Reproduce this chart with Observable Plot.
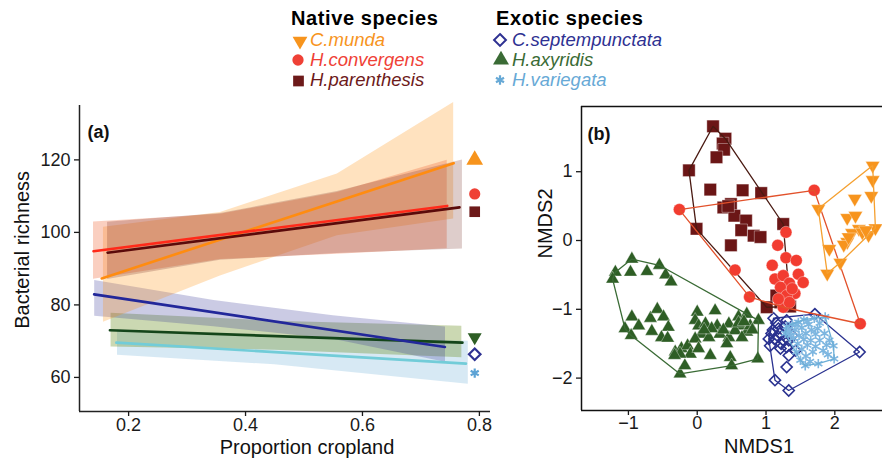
<!DOCTYPE html>
<html><head><meta charset="utf-8">
<script src="https://cdn.jsdelivr.net/npm/d3@7"></script>
<script src="https://cdn.jsdelivr.net/npm/@observablehq/plot@0.6"></script>
<style>
body{margin:0;background:#fff;font-family:"Liberation Sans",Arial,sans-serif;}
#wrap{position:relative;width:882px;height:468px;overflow:hidden;}
#wrap > svg{position:absolute;}
</style></head><body>
<div id="wrap"></div>
<script>
// ---------- data ----------
const species = ["C.munda","H.convergens","H.parenthesis","C.septempunctata","H.axyridis","H.variegata"];
const nativeSpecies = ["C.munda","H.convergens","H.parenthesis"];
const exoticSpecies = ["C.septempunctata","H.axyridis","H.variegata"];

// panel (a): fitted lines (start / end)
const fitX0 = [0.154, 0.140, 0.164, 0.141, 0.168, 0.179];
const fitY0 = [87.3, 94.8, 94.4, 82.9, 73.0, 69.6];
const fitX1 = [0.756, 0.745, 0.766, 0.741, 0.771, 0.777];
const fitY1 = [119.1, 107.3, 106.9, 68.4, 69.6, 63.8];
// panel (a): mean richness markers at the right
const meanX = 0.792;
const meanY = [120.0, 110.6, 105.7, 66.4, 71.1, 61.2];
// panel (a): confidence bands
const mundaBandX = [0.157, 0.357, 0.557, 0.756];
const mundaBandLo = [75.2, 88.0, 99.1, 103.7];
const mundaBandHi = [101.4, 105.5, 116.1, 135.8];
const convBandX = [0.140, 0.357, 0.557, 0.745];
const convBandLo = [87.1, 92.5, 94.0, 95.5];
const convBandHi = [102.9, 105.0, 111.0, 119.9];
const parBandX = [0.164, 0.357, 0.557, 0.771];
const parBandLo = [87.0, 92.3, 94.2, 95.4];
const parBandHi = [102.8, 105.2, 111.3, 120.0];
const septBandX = [0.142, 0.346, 0.550, 0.742];
const septBandLo = [76.9, 74.0, 70.5, 64.2];
const septBandHi = [86.7, 81.2, 77.0, 73.9];
const axyBandX = [0.170, 0.450, 0.770];
const axyBandLo = [68.4, 67.5, 65.4];
const axyBandHi = [77.7, 75.5, 74.1];
const varBandX = [0.181, 0.450, 0.781];
const varBandLo = [66.1, 63.5, 58.1];
const varBandHi = [73.1, 70.8, 70.0];

// panel (b): NMDS scores [NMDS1, NMDS2]
const mundaPts = [[2.55,1.09],[2.55,0.88],[2.53,0.65],[2.29,0.61],[1.76,0.46],[2.18,0.33],[2.30,0.36],[2.35,0.17],[2.25,0.11],[2.40,0.12],[2.49,0.08],[2.59,0.18],[2.18,-0.02],[2.13,-0.06],[1.92,-0.12],[2.08,-0.32],[1.89,-0.48],[2.20,0.05],[2.45,0.15]];
const convPts = [[-0.26,0.45],[1.70,0.73],[1.29,0.12],[1.17,-0.07],[1.29,-0.25],[1.44,-0.29],[1.09,-0.36],[0.55,-0.43],[1.47,-0.49],[1.13,-0.56],[1.25,-0.51],[1.54,-0.61],[1.34,-0.62],[1.21,-0.68],[1.42,-0.77],[1.30,-0.80],[0.76,-0.82],[1.25,-0.97],[1.34,-0.90],[2.37,-1.21],[1.38,-0.70],[1.18,-0.85]];
const parPts = [[0.23,1.66],[0.41,1.48],[0.37,1.41],[0.39,1.32],[0.28,1.21],[-0.12,1.02],[0.19,0.74],[0.66,0.73],[0.93,0.69],[0.38,0.48],[0.49,0.53],[0.54,0.36],[0.71,0.29],[0.64,0.15],[0.82,0.07],[0.92,0.05],[1.25,0.24],[-0.01,0.17],[0.49,-0.07],[1.15,-0.80],[1.01,-0.97],[1.33,-0.90],[1.21,-0.90],[1.35,-0.96],[0.45,0.50]];
const septPts = [[1.11,-1.13],[1.71,-1.07],[1.30,-1.16],[1.18,-1.28],[1.13,-1.43],[1.06,-1.53],[1.04,-1.43],[1.21,-1.57],[1.33,-1.67],[1.30,-1.84],[1.13,-2.03],[1.33,-2.18],[2.36,-1.62],[1.38,-1.38],[1.33,-1.45],[1.43,-1.60],[1.15,-1.20],[1.20,-1.35],[1.25,-1.45],[1.28,-1.25],[1.10,-1.30],[1.22,-1.50],[1.18,-1.40],[1.30,-1.55],[1.08,-1.35]];
const axyPts = [[-0.95,-0.27],[-1.19,-0.46],[-0.97,-0.46],[-0.73,-0.45],[-0.55,-0.36],[-0.46,-0.50],[-0.38,-0.60],[-1.23,-0.56],[-0.95,-1.11],[-1.05,-1.28],[-0.96,-1.38],[-0.85,-1.24],[-0.68,-1.13],[-0.58,-1.00],[-0.49,-1.11],[-0.42,-1.26],[-0.66,-1.32],[-0.52,-1.41],[-0.43,-1.42],[-0.25,-1.94],[-0.18,-1.82],[-0.32,-1.62],[-0.23,-1.57],[-0.14,-1.53],[-0.10,-1.65],[-0.25,-1.65],[-0.33,-1.67],[0.00,-1.04],[0.26,-1.02],[-0.03,-1.16],[0.02,-1.24],[0.12,-1.21],[0.06,-1.36],[0.17,-1.41],[-0.03,-1.43],[0.02,-1.57],[0.19,-1.67],[0.29,-1.24],[0.33,-1.36],[0.46,-1.21],[0.46,-1.41],[0.43,-1.50],[0.48,-1.70],[0.50,-1.82],[0.60,-1.11],[0.72,-1.07],[0.65,-1.24],[0.55,-1.31],[0.72,-1.33],[0.65,-1.41],[0.89,-1.16],[0.88,-1.72],[0.77,-1.24],[0.21,-1.28],[0.10,-1.30],[0.38,-1.30],[0.60,-1.20],[0.80,-1.30],[0.68,-1.18]];
const varPts = [[1.86,-1.11],[1.70,-1.13],[1.55,-1.15],[1.47,-1.19],[1.38,-1.22],[1.30,-1.25],[1.62,-1.22],[1.78,-1.20],[1.52,-1.27],[1.42,-1.30],[1.66,-1.30],[1.35,-1.33],[1.58,-1.35],[1.48,-1.38],[1.72,-1.36],[1.85,-1.35],[1.40,-1.42],[1.55,-1.44],[1.65,-1.45],[1.78,-1.45],[1.92,-1.45],[1.46,-1.50],[1.60,-1.52],[1.72,-1.54],[1.98,-1.53],[1.36,-1.38],[1.52,-1.58],[1.68,-1.62],[1.83,-1.60],[1.44,-1.62],[1.58,-1.68],[1.90,-1.66],[1.99,-1.72],[1.76,-1.79],[1.57,-1.82],[1.50,-1.74],[1.64,-1.76],[1.32,-1.30],[1.28,-1.35],[1.45,-1.22],[1.60,-1.18],[1.75,-1.28],[1.88,-1.52]];

// ---------- styles ----------
const sqrt3 = Math.sqrt(3);
const triangleDown = {draw(ctx, size){ const y = -Math.sqrt(size/(sqrt3*3)); ctx.moveTo(0,-y*2); ctx.lineTo(-sqrt3*y,y); ctx.lineTo(sqrt3*y,y); ctx.closePath(); }};
const textColor = {"C.munda":"#F7941D","H.convergens":"#EF4136","H.parenthesis":"#6D1A1A","C.septempunctata":"#2E3192","H.axyridis":"#3A6B35","H.variegata":"#67A9D6"};
const lineColor = {"C.munda":"#FF8C10","H.convergens":"#FF2A1A","H.parenthesis":"#5A0A0A","C.septempunctata":"#22279A","H.axyridis":"#14451A","H.variegata":"#72CCD8"};
const bandStyle = {"C.munda":["#FF8C00",0.25],"H.convergens":["#F06A3A",0.32],"H.parenthesis":["#6B1A10",0.22],"C.septempunctata":["#2E3192",0.25],"H.axyridis":["#6B8E23",0.35],"H.variegata":["#6BAED6",0.27]};
const font = "'Liberation Sans', Arial, sans-serif";
const tickFmt = d => d < 0 ? "\u2212" + (-d) : String(d);

const wrap = document.getElementById("wrap");

// ---------- legend ----------
const NS = "http://www.w3.org/2000/svg";
const leg = document.createElementNS(NS, "svg");
leg.setAttribute("width", 882); leg.setAttribute("height", 92);
leg.style.left = "0px"; leg.style.top = "0px";
leg.setAttribute("font-family", "Liberation Sans, Arial, sans-serif");
function addText(x, y, s, attrs){ const t = document.createElementNS(NS,"text"); t.setAttribute("x",x); t.setAttribute("y",y); t.textContent = s; for (const k in attrs) t.setAttribute(k, attrs[k]); leg.appendChild(t); }
function addSym(cx, cy, type, size, attrs){ const p = document.createElementNS(NS,"path"); p.setAttribute("d", d3.symbol().type(type).size(size)()); p.setAttribute("transform",`translate(${cx},${cy})`); for (const k in attrs) p.setAttribute(k, attrs[k]); leg.appendChild(p); }
addText(291, 25, "Native species", {"font-weight":"bold","font-size":20,"letter-spacing":0.6});
addText(496, 25, "Exotic species", {"font-weight":"bold","font-size":20,"letter-spacing":0.6});
const rowY = [46, 65.5, 86];
nativeSpecies.forEach((s,i)=> addText(310, rowY[i], s, {"font-style":"italic","font-size":18.5,"fill":textColor[s]}));
exoticSpecies.forEach((s,i)=> addText(512, rowY[i], s, {"font-style":"italic","font-size":18.5,"fill":textColor[s]}));
addSym(300, 41, triangleDown, 95, {fill: textColor["C.munda"]});
addSym(298, 60, d3.symbolCircle, 100, {fill: textColor["H.convergens"]});
addSym(298.5, 81, d3.symbolSquare, 115, {fill: textColor["H.parenthesis"]});
addSym(500, 40, d3.symbolDiamond2, 90, {fill: "none", stroke: textColor["C.septempunctata"], "stroke-width": 2});
addSym(501, 60, d3.symbolTriangle, 110, {fill: textColor["H.axyridis"]});
addSym(500, 80, d3.symbolAsterisk, 60, {stroke: textColor["H.variegata"], "stroke-width": 2.2});
wrap.appendChild(leg);

// ---------- panel (a) ----------
const bandSets = [
  ["H.variegata", varBandX, varBandLo, varBandHi],
  ["H.axyridis", axyBandX, axyBandLo, axyBandHi],
  ["C.septempunctata", septBandX, septBandLo, septBandHi],
  ["C.munda", mundaBandX, mundaBandLo, mundaBandHi],
  ["H.convergens", convBandX, convBandLo, convBandHi],
  ["H.parenthesis", parBandX, parBandLo, parBandHi]
];
const bandMarks = bandSets.map(([sp, xs, lo, hi]) => {
  const rows = xs.map((x,i)=>({x, lo: lo[i], hi: hi[i]}));
  return Plot.areaY(rows, {x:"x", y1:"lo", y2:"hi", fill: bandStyle[sp][0], fillOpacity: bandStyle[sp][1]});
});
const lineOrder = [5,4,3,0,1,2];
const lineMarks = lineOrder.map(i => Plot.line([{x:fitX0[i], y:fitY0[i]},{x:fitX1[i], y:fitY1[i]}], {x:"x", y:"y", stroke: lineColor[species[i]], strokeWidth: 2.6}));
const meanSym = [d3.symbolTriangle, "circle", "square", "diamond2", triangleDown, "asterisk"];
const meanR = [6.2, 5.6, 6.0, 5.2, 5.2, 4.4];
const meanFill = ["#F7941D", "#EF4136", "#6D1A1A", "none", "#2E5E25", "none"];
const meanStroke = ["none", "none", "none", "#2E3192", "none", "#5DA3D5"];
const meanMarks = species.map((s,i) =>
  Plot.dot([{x: meanX, y: meanY[i]}], {x:"x", y:"y", symbol: meanSym[i], r: meanR[i],
    fill: meanFill[i], stroke: meanStroke[i], strokeWidth: 2.2}));
const ax0 = 0.116, ax1 = 0.819, ay0 = 50.6, ay1 = 135;
const panelA = Plot.plot({
  width: 510, height: 378, marginLeft: 79, marginRight: 20, marginTop: 15, marginBottom: 57,
  x: {domain: [ax0, ax1]}, y: {domain: [ay0, ay1]},
  style: {fontFamily: font, fontSize: "18px", color: "#1a1a1a", background: "none", overflow: "visible"},
  marks: [
    ...bandMarks,
    ...lineMarks,
    ...meanMarks,
    Plot.ruleX([ax0], {stroke: "#222", strokeWidth: 1.5}),
    Plot.ruleY([ay0], {stroke: "#222", strokeWidth: 1.5}),
    Plot.axisX({ticks: [0.2,0.4,0.6,0.8], tickFormat: d => d.toFixed(1), tickSize: 5, tickPadding: 2, label: null, fontSize: 18, strokeWidth: 1.3}),
    Plot.axisY({ticks: [60,80,100,120], tickFormat: tickFmt, tickSize: 5, tickPadding: 4, label: null, fontSize: 18, strokeWidth: 1.3}),
    Plot.text(["Proportion cropland"], {frameAnchor: "bottom", dx: 22, dy: 42, fontSize: 20, fill: "#111"}),
    Plot.text(["Bacterial richness"], {x: ax0, y: 95.2, rotate: -90, dx: -57, fontSize: 20, fill: "#111"}),
    Plot.text(["(a)"], {frameAnchor: "top-left", textAnchor: "start", dx: 8, dy: 20, fontSize: 18, fontWeight: "bold", fill: "#111"})
  ]
});
panelA.style.left = "0px"; panelA.style.top = "90px";
wrap.appendChild(panelA);

// ---------- panel (b) ----------
const rowsOf = pts => pts.map(([x,y]) => ({x, y}));
const hullColor = {"C.munda":"#F5A030","H.convergens":"#E2512B","H.parenthesis":"#4A1A12","C.septempunctata":"#2A3290","H.axyridis":"#3A6B35","H.variegata":"#6BAED6"};
const ptSets = [
  ["H.axyridis", axyPts, "triangle", 5.0, "#2E5E25", false],
  ["C.septempunctata", septPts, "diamond2", 5.0, "#2A3290", true],
  ["H.variegata", varPts, "asterisk", 4.4, "#7DB6E0", true],
  ["H.parenthesis", parPts, "square", 7.0, "#6B1616", false],
  ["H.convergens", convPts, "circle", 6.0, "#F23C30", false],
  ["C.munda", mundaPts, triangleDown, 5.3, "#F7941D", false]
];
const bx0 = -1.682, bx1 = 2.693, by0 = -2.471, by1 = 1.948;
const bMarks = [];
for (const [sp, pts, sym, r, col, open] of ptSets) {
  const rows = rowsOf(pts);
  bMarks.push(Plot.dot(rows, {x:"x", y:"y", symbol: sym, r,
    fill: open ? "none" : col, stroke: open ? col : "#fff",
    strokeOpacity: open ? 1 : 0.4, strokeWidth: open ? 1.6 : 0.9}));
  bMarks.push(Plot.hull(rows, {x:"x", y:"y", stroke: hullColor[sp], strokeWidth: 1.3, fill: "none"}));
}
const panelB = Plot.plot({
  width: 352, height: 378, marginLeft: 51, marginRight: 0, marginTop: 16, marginBottom: 58,
  x: {domain: [bx0, bx1]}, y: {domain: [by0, by1]},
  style: {fontFamily: font, fontSize: "18px", color: "#1a1a1a", background: "none", overflow: "visible"},
  marks: [
    ...bMarks,
    Plot.ruleX([bx0], {stroke: "#111", strokeWidth: 1.5}),
    Plot.ruleY([by0, by1], {stroke: "#111", strokeWidth: 1.5}),
    Plot.axisX({ticks: [-1,0,1,2], tickFormat: tickFmt, tickSize: 5, tickPadding: 1, label: null, fontSize: 18, strokeWidth: 1.3}),
    Plot.axisY({ticks: [-2,-1,0,1], tickFormat: tickFmt, tickSize: 5, tickPadding: 4, label: null, fontSize: 18, strokeWidth: 1.3}),
    Plot.text(["NMDS1"], {frameAnchor: "bottom", dx: 27, dy: 42, fontSize: 20, fill: "#111"}),
    Plot.text(["NMDS2"], {frameAnchor: "left", rotate: -90, dx: -36, fontSize: 20, fill: "#111"}),
    Plot.text(["(b)"], {frameAnchor: "top-left", textAnchor: "start", dx: 6, dy: 21, fontSize: 18, fontWeight: "bold", fill: "#111"})
  ]
});
panelB.style.left = "530px"; panelB.style.top = "90px";
wrap.appendChild(panelB);
</script>
</body></html>
